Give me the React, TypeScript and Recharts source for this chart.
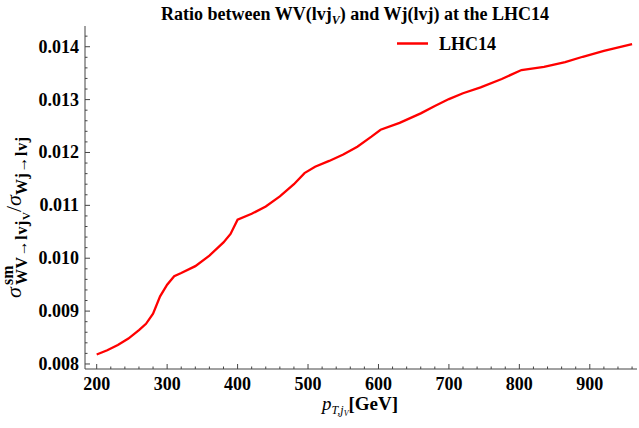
import React from "react";
import { Line, LineChart, XAxis, YAxis } from "recharts";

// pT bins (GeV) and the WV/Wj ratio
const ptBins = [
  200, 215, 230, 245, 260, 270, 280, 290, 300, 310, 320, 340, 360, 380, 390,
  400, 420, 440, 460, 480, 495, 510, 530, 550, 570, 590, 603, 630, 660, 680,
  700, 720, 745, 775, 803, 835, 865, 890, 920, 960,
];
const ratioLHC14 = [
  0.00818, 0.00826, 0.00836, 0.00848, 0.00864, 0.00876, 0.00895, 0.00928,
  0.0095, 0.00966, 0.00972, 0.00985, 0.01005, 0.0103, 0.01046, 0.01073,
  0.01084, 0.01098, 0.01117, 0.0114, 0.01161, 0.01173, 0.01184, 0.01196,
  0.01211, 0.0123, 0.01243, 0.01256, 0.01274, 0.01288, 0.01301, 0.01312,
  0.01323, 0.01339, 0.01356, 0.01362, 0.01371, 0.01381, 0.01392, 0.01405,
];

const xMajorTicks = [200, 300, 400, 500, 600, 700, 800, 900];
const yMajorTicks = [0.008, 0.009, 0.01, 0.011, 0.012, 0.013, 0.014];

const X_DOMAIN: [number, number] = [183.4, 967];
const Y_DOMAIN: [number, number] = [0.007905, 0.014392];

const FRAME = "#444";
const RED = "#ff0000";
const SERIF = "'Liberation Serif', 'DejaVu Serif', serif";
const serif = { fontFamily: SERIF };

// minor ticks every 20 GeV / 0.0002
const xAllTicks = Array.from({ length: 39 }, (_, i) => 200 + 20 * i);
const yAllTicks = Array.from(
  { length: 32 },
  (_, i) => Math.round((0.008 + 0.0002 * i) * 1e5) / 1e5
);

const isMajorX = (v: number) => xMajorTicks.includes(v);
const isMajorY = (v: number) =>
  yMajorTicks.some((t) => Math.abs(t - v) < 1e-7);

const data = ptBins.map((pt, i) => ({ pt, ratio: ratioLHC14[i] }));

function BottomTick(props: any) {
  const { x, y, payload } = props;
  const major = isMajorX(payload.value);
  return (
    <g>
      <line x1={x} x2={x} y1={y} y2={y - (major ? 5 : 2.5)} stroke={FRAME} />
      {major && (
        <text
          x={x}
          y={y + 21}
          textAnchor="middle"
          style={serif}
          fontWeight="bold"
          fontSize={18}
          fill="#000"
        >
          {payload.value}
        </text>
      )}
    </g>
  );
}

function TopTick(props: any) {
  const { x, y, payload } = props;
  const major = isMajorX(payload.value);
  return (
    <line x1={x} x2={x} y1={y} y2={y + (major ? 5 : 2.5)} stroke={FRAME} />
  );
}

function LeftTick(props: any) {
  const { x, y, payload } = props;
  const major = isMajorY(payload.value);
  return (
    <g>
      <line x1={x} x2={x + (major ? 5 : 2.5)} y1={y} y2={y} stroke={FRAME} />
      {major && (
        <text
          x={x - 6}
          y={y + 6}
          textAnchor="end"
          style={serif}
          fontWeight="bold"
          fontSize={18}
          fill="#000"
        >
          {payload.value.toFixed(3)}
        </text>
      )}
    </g>
  );
}

function RightTick(props: any) {
  const { x, y, payload } = props;
  const major = isMajorY(payload.value);
  return (
    <line x1={x} x2={x - (major ? 5 : 2.5)} y1={y} y2={y} stroke={FRAME} />
  );
}

export default function App() {
  return (
    <div
      style={{
        position: "absolute",
        left: 0,
        top: 0,
        width: 639,
        height: 428,
        background: "#fff",
        fontFamily: SERIF,
      }}
    >
      <LineChart
        width={639}
        height={428}
        data={data}
        margin={{ top: 26, right: 2, bottom: 0, left: 0 }}
        style={serif}
      >
        <XAxis
          dataKey="pt"
          type="number"
          domain={X_DOMAIN}
          allowDataOverflow
          ticks={xAllTicks}
          interval={0}
          height={59}
          tickSize={0}
          tickMargin={0}
          tick={(p: any) => <BottomTick {...p} />}
          axisLine={{ stroke: FRAME }}
          tickLine={false}
        />
        <XAxis
          xAxisId="top"
          orientation="top"
          type="number"
          domain={X_DOMAIN}
          allowDataOverflow
          ticks={xAllTicks}
          interval={0}
          height={0}
          tickSize={0}
          tickMargin={0}
          tick={(p: any) => <TopTick {...p} />}
          axisLine={{ stroke: FRAME }}
          tickLine={false}
        />
        <YAxis
          type="number"
          domain={Y_DOMAIN}
          allowDataOverflow
          ticks={yAllTicks}
          interval={0}
          width={85}
          tickSize={0}
          tickMargin={0}
          tick={(p: any) => <LeftTick {...p} />}
          axisLine={{ stroke: FRAME }}
          tickLine={false}
        />
        <YAxis
          yAxisId="right"
          orientation="right"
          type="number"
          domain={Y_DOMAIN}
          allowDataOverflow
          ticks={yAllTicks}
          interval={0}
          width={0}
          tickSize={0}
          tickMargin={0}
          tick={(p: any) => <RightTick {...p} />}
          axisLine={{ stroke: FRAME }}
          tickLine={false}
        />
        <Line
          dataKey="ratio"
          type="linear"
          stroke={RED}
          strokeWidth={2.3}
          dot={false}
          isAnimationActive={false}
        />
      </LineChart>

      {/* title, legend and axis labels */}
      <svg
        width={639}
        height={428}
        style={{
          position: "absolute",
          left: 0,
          top: 0,
          pointerEvents: "none",
          fontFamily: SERIF,
        }}
      >
        <text x={355} y={20} textAnchor="middle" fontWeight="bold" fontSize={18}>
          Ratio between WV(lvj
          <tspan fontStyle="italic" fontSize={12} dy={4}>
            V
          </tspan>
          <tspan dy={-4}>) and Wj(lvj) at the LHC14</tspan>
        </text>

        <line x1={397} x2={428} y1={43.5} y2={43.5} stroke={RED} strokeWidth={2.5} />
        <text x={439} y={50} fontWeight="bold" fontSize={18}>
          LHC14
        </text>

        <text x={322} y={410} fontSize={19}>
          <tspan fontStyle="italic">p</tspan>
          <tspan fontStyle="italic" fontSize={12} dy={4}>
            T,j
          </tspan>
          <tspan fontStyle="italic" fontSize={8} dy={2}>
            V
          </tspan>
          <tspan fontWeight="bold" dy={-6}>
            [GeV]
          </tspan>
        </text>

        <g transform="translate(21,298) rotate(-90)">
          <text x={0} y={0} fontSize={22} fontStyle="italic">
            σ
          </text>
          <text x={13} y={-8} fontSize={16} fontWeight="bold">
            sm
          </text>
          <text x={13} y={6} fontSize={16} fontWeight="bold" letterSpacing={0.6}>
            WV→lvj
            <tspan fontSize={11} dy={3}>
              V
            </tspan>
          </text>
          <text x={86} y={0} fontSize={22}>
            /
            <tspan fontStyle="italic">σ</tspan>
            <tspan fontSize={16} fontWeight="bold" dy={6} letterSpacing={0.6}>
              Wj→lvj
            </tspan>
          </text>
        </g>
      </svg>
    </div>
  );
}
